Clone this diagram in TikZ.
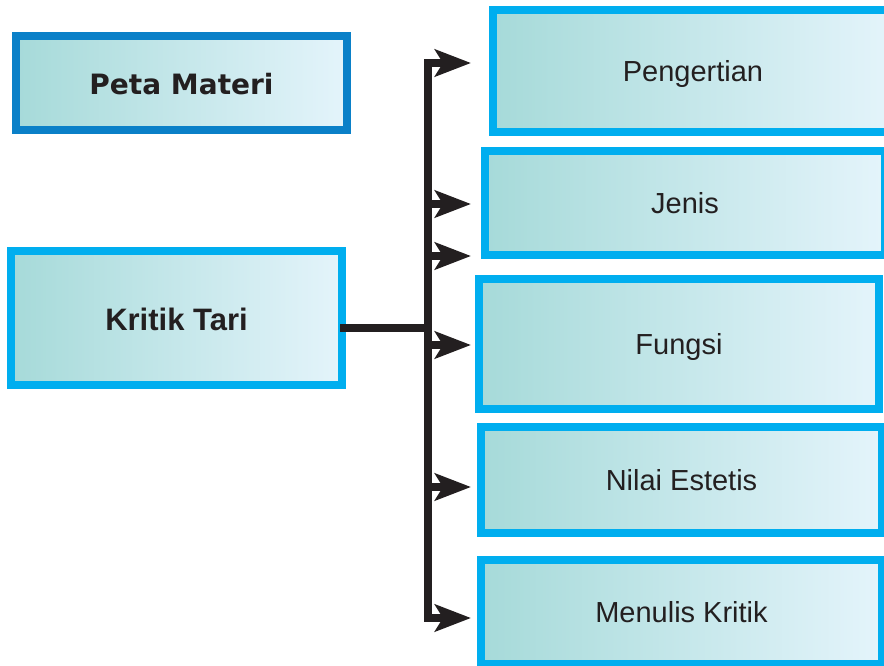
\documentclass[tikz,border=0pt]{standalone}
\usepackage{fontspec}
\setmainfont{Liberation Sans}
\newfontfamily\petafont{DejaVu Sans}
\usetikzlibrary{arrows.meta}
\definecolor{cyanb}{HTML}{00AEEF}
\definecolor{darkb}{HTML}{0A80C8}
\definecolor{tealL}{HTML}{A6DAD9}
\definecolor{tealR}{HTML}{E4F4FB}
\definecolor{ink}{HTML}{231F20}
\begin{document}
\begin{tikzpicture}[x=1pt,y=-1pt,
  box/.style={shade, left color=tealL, right color=tealR, draw=cyanb, line width=8pt,
    inner sep=0pt, text depth=0pt, text=ink, font=\fontsize{29}{34}\selectfont},
  conn/.style={draw=ink, line width=8pt},
  arr/.style={conn, -{Stealth[length=36pt,width=27pt,inset=8pt]}}]
\useasboundingbox (0,0) rectangle (884,665);
\begin{scope}
\clip (0,0) rectangle (884,665);
\node[box, draw=darkb, minimum width=331pt, minimum height=94pt,
  font=\petafont\bfseries\fontsize{28}{32}\selectfont] (peta) at (181.5,83) {\raisebox{-2pt}{Peta Materi}};
\node[box, minimum width=331pt, minimum height=134pt,
  font=\bfseries\fontsize{31}{36}\selectfont] (kritik) at (176.5,318) {\raisebox{-2pt}{Kritik Tari}};
\node[box, minimum width=400pt, minimum height=122pt] (pengertian) at (693,71) {Pengertian};
\node[box, minimum width=400pt, minimum height=104pt] (jenis) at (685,203) {Jenis};
\node[box, minimum width=400pt, minimum height=130pt] (fungsi) at (679,344) {Fungsi};
\node[box, minimum width=401pt, minimum height=106pt] (nilai) at (681.5,480) {Nilai Estetis};
\node[box, minimum width=401pt, minimum height=104pt] (menulis) at (681.5,612) {Menulis Kritik};

\coordinate (tTop) at (428,63);
\coordinate (tBot) at (428,618);
\coordinate (tK) at (428,328);
\coordinate (aP) at (471,63);
\coordinate (aJ) at (471,204);
\coordinate (aX) at (471,256);
\coordinate (aF) at (471,345);
\coordinate (aN) at (471,487);
\coordinate (aM) at (471,618);

\draw[conn, line cap=rect] (tTop) -- (tBot);
\draw[conn] ([xshift=-6pt]kritik.east |- tK) -- (tK);
\draw[arr] (tTop) -- (aP);
\draw[arr] (tTop |- aJ) -- (aJ);
\draw[arr] (tTop |- aX) -- (aX);
\draw[arr] (tTop |- aF) -- (aF);
\draw[arr] (tTop |- aN) -- (aN);
\draw[arr] (tBot) -- (aM);
\end{scope}
\end{tikzpicture}
\end{document}
